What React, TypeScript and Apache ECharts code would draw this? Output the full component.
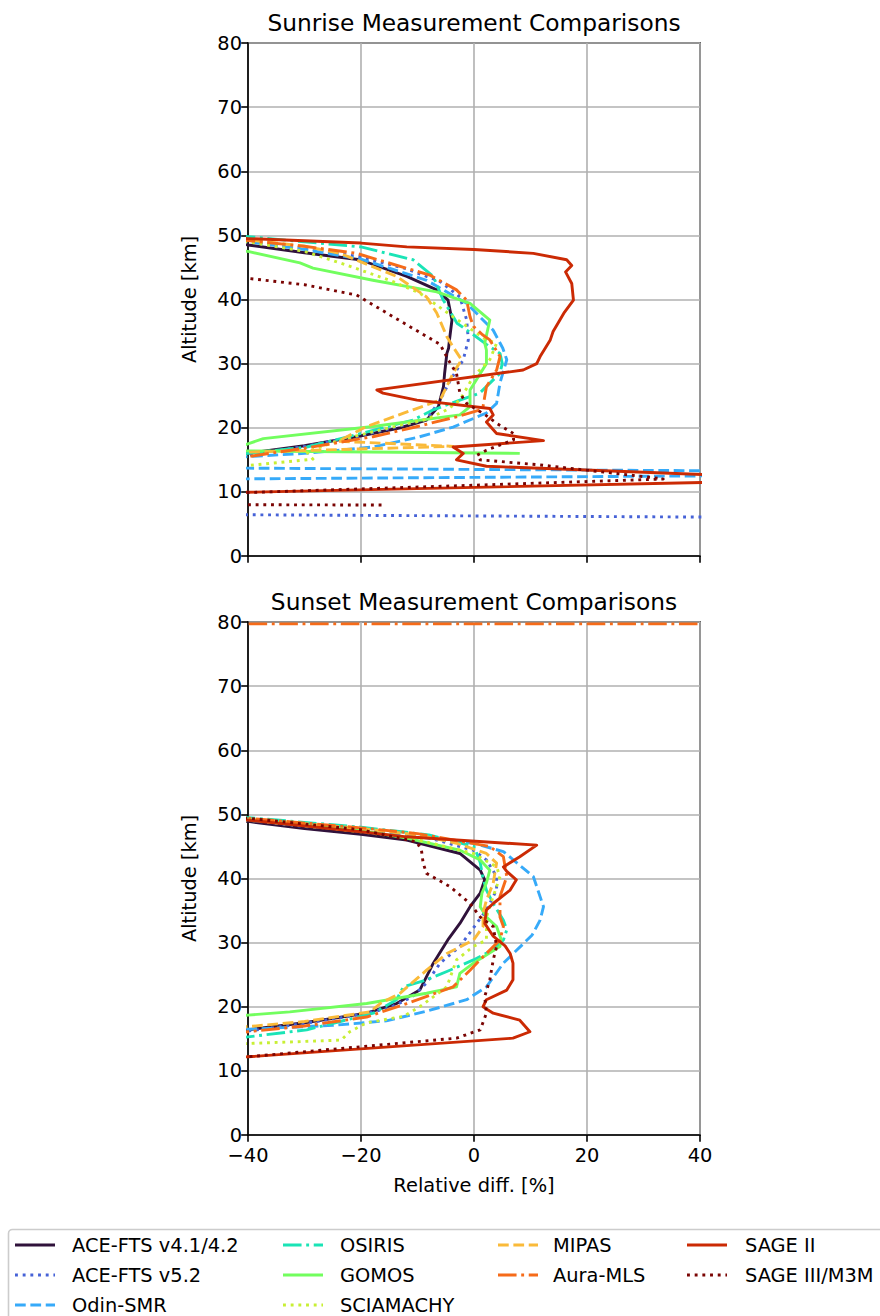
import React, { useEffect, useRef } from "react";
import * as echarts from "echarts";

type Pt = [number, number];

// ---------- Sunrise (x = relative diff %, y = altitude km) ----------
const sunriseAce41: Pt[] = [[-42, 48.8], [-40, 48.5], [-30, 47.3], [-20.2, 46.2], [-11.9, 43.6], [-6.6, 41.5], [-4.6, 39.9], [-3.9, 36.8], [-4.3, 34], [-4.5, 32.4], [-4.8, 31.6], [-5.2, 28.5], [-5.4, 26.4], [-6.3, 23.3], [-8.4, 21.2], [-13, 20], [-20.8, 18.6], [-30, 17.2], [-40, 16], [-42, 15.8]];
const sunriseAce52: Pt[] = [[-42, 49.4], [-40, 49.2], [-30, 48], [-20, 46.6], [-12, 44.8], [-6, 42.8], [-2.5, 40.4], [-1.3, 36.8], [-1, 33.7], [-1.9, 30.6], [-4.2, 27.4], [-6, 24.3], [-8.4, 21.3], [-20.8, 18.6], [-30, 17.1], [-40, 15.7], [-45, 15.3], [-45, 6.45], [45, 6.05]];
const sunriseOdin: Pt[] = [[-42, 49.2], [-40, 49], [-30, 47.8], [-20, 46.3], [-8.4, 43], [-1.3, 39.4], [3.4, 35.2], [5.1, 32.4], [5.8, 30.6], [4.6, 27], [4, 23.8], [2.2, 22.3], [-3.7, 20.1], [-10, 18.5], [-17.9, 17], [-30, 16], [-40, 15.5], [-45, 15.3], [-45, 13.72], [45, 13.28], [45, 12.52], [-45, 12.0]];
const sunriseOsiris: Pt[] = [[-42, 49.9], [-40, 49.8], [-30, 49], [-20, 48.2], [-10.8, 46.2], [-7.2, 43.6], [-5.5, 40], [-3, 36.3], [-0.1, 34.5], [2.2, 33], [4.6, 31.6], [5, 30], [4.6, 28.5], [1, 25.4], [-2.5, 24.3], [-7.2, 22.8], [-10.8, 21.2], [-19.6, 19.2], [-29.6, 17], [-40, 16], [-42, 15.8]];
const sunriseGomos: Pt[] = [[-42, 47.7], [-40, 47.5], [-30.8, 45.7], [-28.5, 44.9], [-17.9, 43], [-6.6, 41.2], [-0.7, 39.4], [2.8, 36.8], [1.9, 33.2], [2.2, 32.1], [2.2, 30], [-0.7, 25.9], [-0.7, 23.3], [-2.5, 22], [-17.9, 20.2], [-37.3, 18.3], [-41, 17.2], [-41, 16.4], [8.1, 16.0]];
const sunriseSciamachy: Pt[] = [[-42, 49.2], [-40, 49], [-30, 47.5], [-23.7, 45.7], [-14.9, 43], [-9.6, 41], [-3.7, 37.3], [2.2, 33.7], [4, 33.2], [2.8, 30.6], [-0.1, 28], [-2.5, 24.3], [-4.8, 22.8], [-8.4, 21.3], [-15, 20], [-23.7, 18.1], [-29.6, 16.2], [-28.5, 15.1], [-39, 14.2], [-42, 14.0]];
const sunriseMipas: Pt[] = [[-42, 49.5], [-40, 49.3], [-30, 48.3], [-23.7, 47.2], [-13.7, 43.6], [-8.4, 40.4], [-6.6, 37.9], [-4.8, 34.2], [-3.7, 32.6], [-2.2, 30.6], [-3.7, 28.5], [-6, 24.3], [-10.8, 22.8], [-19, 20.2], [-22.5, 18.6], [-24, 17.9], [-3.7, 17.1], [-40, 16.2], [-42, 16.1]];
const sunriseAuraMls: Pt[] = [[-42, 49.4], [-40, 49.2], [-30, 48.3], [-20.8, 47.2], [-7.8, 43.8], [-3.1, 41.5], [-1.3, 39.9], [-0.7, 37.3], [-0.1, 35.8], [1.5, 34.5], [2.8, 33.7], [4.6, 31.1], [4, 29], [2.2, 26.4], [1.6, 23.3], [1.1, 22.8], [-3.1, 21.7], [-10, 20.2], [-17.9, 18.6], [-30, 16.8], [-40, 15.5], [-42, 15.3]];
const sunriseSage2: Pt[] = [[-42, 49.6], [-40, 49.5], [-20, 48.8], [-11.9, 48.2], [0, 47.8], [10.5, 47.2], [16.4, 46.2], [17.3, 45.3], [16.2, 44.3], [17.3, 42.5], [17.6, 39.9], [16, 38], [15.2, 36.8], [14, 35], [13.5, 33.7], [11.7, 31.1], [11.1, 30], [8.7, 29], [-17.2, 25.9], [-16.1, 25.4], [-10.1, 24.3], [2.8, 23], [3.4, 22], [2.2, 20.9], [4, 19.1], [12.3, 18], [-3.7, 17], [-1.9, 16], [-3.1, 15], [2.2, 14], [45, 12.55], [45, 11.55], [-45, 9.85]];
const sunriseSage3: Pt[] = [[-45, 43.5], [-40, 43.3], [-30, 42.3], [-20.8, 40.7], [-14.3, 37.3], [-6, 33], [-4.5, 30.5], [-3.1, 28.5], [-2.5, 25.4], [-1.3, 23.8], [2, 22], [4, 20.7], [7, 19.1], [7, 18.1], [2.2, 16.5], [0.5, 15.7], [1.1, 15], [11.7, 14.2], [32.9, 12.1], [33.5, 12], [-45, 9.75], [-45, 8.0], [-16.1, 7.95]];

// ---------- Sunset ----------
const sunsetAce41: Pt[] = [[-42, 49.1], [-40, 48.9], [-30, 47.8], [-20, 46.9], [-11.9, 46], [-2.5, 43.9], [1.1, 41.3], [1.9, 39.8], [1.1, 37.7], [-0.7, 35.6], [-2.5, 33], [-4.5, 30.6], [-7.2, 26.8], [-9.6, 22.6], [-13.7, 20.5], [-19, 19], [-30, 17.5], [-40, 16.4], [-42, 16.2]];
const sunsetAce52: Pt[] = [[-42, 49.3], [-40, 49.1], [-30, 48.1], [-20, 47.6], [-10.7, 47], [-0.1, 44.4], [2.2, 42.9], [4, 40.3], [4, 38.2], [2.2, 35.1], [-0.1, 32.3], [-2.5, 29.4], [-6, 26.8], [-8.4, 23.7], [-11, 21.5], [-15, 19.8], [-20, 18.8], [-30, 17.4], [-40, 16.2], [-42, 16]];
const sunsetOdin: Pt[] = [[-42, 49.3], [-40, 49.1], [-20, 47.4], [-10, 46.5], [-0.1, 45.5], [5.2, 44.2], [10.5, 40.3], [12.3, 35.6], [11.7, 33.5], [10.3, 31.2], [8.7, 29.8], [5.2, 26.8], [2.2, 23.1], [-1.3, 21.1], [-8.4, 19.3], [-15.5, 17.8], [-25, 17.1], [-40, 16.5], [-42, 16.4]];
const sunsetOsiris: Pt[] = [[-42, 49.6], [-40, 49.5], [-20, 48], [-8, 46.8], [0, 45], [1.1, 42.5], [1.6, 40], [2.2, 38.2], [3.4, 36.1], [5.2, 33.5], [5.8, 32], [5.2, 30.4], [3.4, 28.9], [-0.1, 27.3], [-4.8, 25.5], [-8.4, 24.2], [-12.5, 23.1], [-13.7, 21.1], [-17.8, 19], [-29.6, 16.4], [-40, 15.3], [-42, 15.1]];
const sunsetGomos: Pt[] = [[-42, 49.4], [-40, 49.2], [-20, 47.5], [-11.9, 46.3], [-2.5, 44.4], [1.1, 42.9], [2.8, 41.3], [2.2, 39.3], [1.4, 37.7], [1.1, 35.6], [2.2, 34], [4, 32.5], [4.8, 30.5], [4.6, 29.4], [-0.1, 26.8], [-2.5, 25.2], [-3.1, 23.1], [-8.4, 22.1], [-19, 20.5], [-32.6, 19.2], [-40, 18.7], [-42, 18.6]];
const sunsetSciamachy: Pt[] = [[-42, 49.3], [-40, 49.1], [-20, 47.3], [-10.7, 46.2], [-0.1, 43.9], [4, 41.8], [4.6, 40.3], [3.4, 37.2], [2.2, 34], [2.2, 30.4], [-0.1, 29.4], [-3.1, 27.3], [-4.8, 23.1], [-9.6, 20], [-12.5, 18.5], [-19, 17.5], [-22, 16.1], [-23.5, 14.8], [-39, 14.3], [-42, 14.2]];
const sunsetMipas: Pt[] = [[-42, 49.5], [-40, 49.3], [-20, 47.8], [-10, 46.8], [-3.1, 45.5], [2.2, 43.9], [4, 42.4], [3.4, 39.3], [2.2, 36.6], [1.6, 34.6], [1.6, 32.5], [-0.1, 30.4], [-4.8, 28.3], [-8.4, 25.7], [-13.1, 22.1], [-16.6, 20.5], [-18.4, 19.2], [-30, 17.7], [-40, 16.9], [-42, 16.8]];
const sunsetAuraMls: Pt[] = [[45, 79.7], [-45, 79.7], [-45, 49.6], [-40, 49.4], [-20, 47.9], [-10, 47], [2.8, 45], [5.2, 43.4], [5.8, 40.3], [4.6, 37.2], [4.6, 34], [5.2, 32.5], [4.6, 30.4], [1.6, 27.8], [-0.7, 25.7], [-3.7, 23.1], [-11.9, 20.5], [-19, 18.4], [-30, 17], [-40, 16.1], [-42, 15.9]];
const sunsetSage2: Pt[] = [[-42, 49.2], [-40, 49.1], [-20, 47.3], [-11.9, 46.5], [11.1, 45.2], [8.1, 43.4], [5.2, 41.8], [5.8, 41.1], [7.5, 39.8], [6.4, 38.2], [3.4, 36.1], [2.2, 35.1], [1.9, 33], [3.4, 31], [5.5, 29.5], [6.4, 28.3], [6.9, 26.8], [6.9, 24.2], [5.8, 22.6], [2.2, 21.1], [1.6, 20], [3.4, 19], [8.1, 17.9], [9.9, 16.1], [6.9, 15.1], [-40, 12.2], [-42, 12.1]];
const sunsetSage3: Pt[] = [[-42, 49.5], [-40, 49.4], [-20, 47.6], [-10.1, 45.7], [-9.3, 44.4], [-9, 42.4], [-8.4, 40.8], [-4.2, 38.7], [-0.7, 36.1], [1.1, 34], [3.4, 32.5], [4, 29.4], [3.4, 27.3], [2.8, 24.2], [1.9, 21.6], [2.2, 19], [1.1, 16.4], [-3.1, 15.1], [-40, 12.2], [-42, 12.1]];

const instrumentNames = ["ACE-FTS v4.1/4.2", "ACE-FTS v5.2", "Odin-SMR", "OSIRIS", "GOMOS", "SCIAMACHY", "MIPAS", "Aura-MLS", "SAGE II", "SAGE III/M3M"];
const sunriseData: Pt[][] = [sunriseAce41, sunriseAce52, sunriseOdin, sunriseOsiris, sunriseGomos, sunriseSciamachy, sunriseMipas, sunriseAuraMls, sunriseSage2, sunriseSage3];
const sunsetData: Pt[][] = [sunsetAce41, sunsetAce52, sunsetOdin, sunsetOsiris, sunsetGomos, sunsetSciamachy, sunsetMipas, sunsetAuraMls, sunsetSage2, sunsetSage3];
const panelTitles = ["Sunrise Measurement Comparisons", "Sunset Measurement Comparisons"];
const xTicks = [-40, -20, 0, 20, 40];
const yTicks = [0, 10, 20, 30, 40, 50, 60, 70, 80];

// ---------- styles ----------
const LW = 2.9;
const DASHED = [3.7 * LW, 1.6 * LW];
const DOTTED = [1 * LW, 1.65 * LW];
const DASHDOT = [6.4 * LW, 1.6 * LW, 1 * LW, 1.6 * LW];
const colors = ["#30123b", "#4662d7", "#36aaf9", "#1ae4b6", "#72fe5e", "#c8ef34", "#faba39", "#f66b19", "#cb2a04", "#7a0403"];
const dashes: (number[] | null)[] = [null, DOTTED, DASHED, DASHDOT, null, DOTTED, DASHED, DASHDOT, null, DOTTED];

const FONT = "DejaVu Sans";
const FS = 19.4;
const FS_TITLE = 23.3;

const GRID_LEFT = 248;
const GRID_W = 452;
const GRID_H = 513;
const GRID_TOPS = [43, 622];

const fmt = (v: number) => String(v).replace("-", "\u2212");

export default function App() {
  const ref = useRef<HTMLDivElement>(null);
  useEffect(() => {
    if (!ref.current) return;
    const chart = echarts.init(ref.current, undefined, { renderer: "svg" });

    const grids = GRID_TOPS.map((top) => ({
      left: GRID_LEFT,
      top,
      width: GRID_W,
      height: GRID_H,
      show: true,
      borderColor: "#000",
      borderWidth: 1.6,
      backgroundColor: "transparent",
    }));

    const xAxes = [0, 1].map((i) => ({
      type: "value",
      gridIndex: i,
      min: xTicks[0],
      max: xTicks[xTicks.length - 1],
      interval: 20,
      name: i === 1 ? "Relative diff. [%]" : "",
      nameLocation: "middle",
      nameGap: 41,
      nameTextStyle: { fontFamily: FONT, fontSize: FS, color: "#000" },
      axisLine: { show: true, onZero: false, lineStyle: { color: "#000", width: 1.6 } },
      axisTick: { show: true, inside: false, length: 6.8, lineStyle: { color: "#000", width: 1.6 } },
      axisLabel: { show: i === 1, fontFamily: FONT, fontSize: FS, color: "#000", margin: 11, formatter: fmt },
      splitLine: { show: true, lineStyle: { color: "#b0b0b0", width: 1.6 } },
    }));

    const yAxes = [0, 1].map((i) => ({
      type: "value",
      gridIndex: i,
      min: yTicks[0],
      max: yTicks[yTicks.length - 1],
      interval: 10,
      name: "Altitude [km]",
      nameLocation: "middle",
      nameRotate: 90,
      nameGap: 49,
      nameTextStyle: { fontFamily: FONT, fontSize: FS, color: "#000" },
      axisLine: { show: true, onZero: false, lineStyle: { color: "#000", width: 1.6 } },
      axisTick: { show: true, inside: false, length: 6.8, lineStyle: { color: "#000", width: 1.6 } },
      axisLabel: { show: true, fontFamily: FONT, fontSize: FS, color: "#000", margin: 6, formatter: fmt },
      splitLine: { show: true, lineStyle: { color: "#b0b0b0", width: 1.6 } },
    }));

    const series: any[] = [];
    [sunriseData, sunsetData].forEach((panel, p) => {
      panel.forEach((d, k) => {
        series.push({
          type: "line",
          name: instrumentNames[k],
          xAxisIndex: p,
          yAxisIndex: p,
          data: d,
          symbol: "none",
          clip: true,
          silent: true,
          lineStyle: {
            color: colors[k],
            width: LW,
            type: dashes[k] ? dashes[k] : "solid",
            cap: "butt",
            join: "round",
          },
        });
      });
    });

    const graphics: any[] = [];
    panelTitles.forEach((t, i) => {
      graphics.push({
        type: "text",
        x: GRID_LEFT + GRID_W / 2,
        y: GRID_TOPS[i] - 21,
        style: { text: t, fontFamily: FONT, fontSize: FS_TITLE, fill: "#000", textAlign: "center", textVerticalAlign: "middle" },
      });
    });

    // legend
    graphics.push({
      type: "rect",
      shape: { x: 8.5, y: 1229.5, width: 900, height: 120, r: 4 },
      style: { fill: "#fff", stroke: "#cccccc", lineWidth: 1.6 },
      z: 10,
    });
    const colLineX = [15, 283, 498, 687];
    const colTextX = [72, 340, 553, 745];
    const rowY = [1245, 1275, 1305];
    const layout = [[0, 0], [0, 1], [0, 2], [1, 0], [1, 1], [1, 2], [2, 0], [2, 1], [3, 0], [3, 1]];
    layout.forEach(([c, r], k) => {
      graphics.push({
        type: "line",
        shape: { x1: colLineX[c], y1: rowY[r], x2: colLineX[c] + 40, y2: rowY[r] },
        style: { stroke: colors[k], lineWidth: LW, lineDash: dashes[k] ? dashes[k] : null, lineCap: "butt" },
        z: 11,
      });
      graphics.push({
        type: "text",
        x: colTextX[c],
        y: rowY[r],
        style: { text: instrumentNames[k], fontFamily: FONT, fontSize: FS, fill: "#000", textAlign: "left", textVerticalAlign: "middle" },
        z: 11,
      });
    });

    chart.setOption({
      animation: false,
      backgroundColor: "#fff",
      textStyle: { fontFamily: FONT },
      grid: grids,
      xAxis: xAxes,
      yAxis: yAxes,
      series,
      graphic: graphics,
    });
    return () => chart.dispose();
  }, []);

  return <div ref={ref} style={{ position: "absolute", left: 0, top: 0, width: 880, height: 1316 }} />;
}
